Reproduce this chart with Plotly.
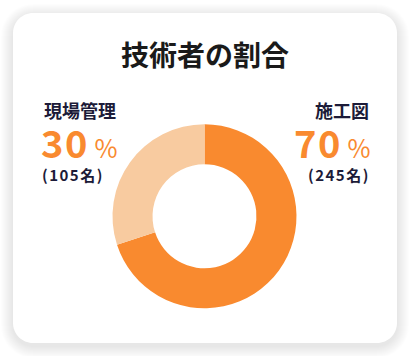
import plotly.graph_objects as go

W, H = 410, 356

title = "技術者の割合"
labels = ["施工図", "現場管理"]
values = [70, 30]
counts = [245, 105]
colors = ["#F98A2F", "#F8CBA0"]

ORANGE = "#F98A2F"
NAVY = "#1C1B38"
FONT = "Noto Sans CJK JP"


def px(x):
    return x / W


def py(y):
    return 1 - y / H


def rrect(x0, y0, x1, y1, r):
    k = 0.4477
    pts = [
        f"M {px(x0 + r)},{py(y0)}",
        f"L {px(x1 - r)},{py(y0)}",
        f"C {px(x1 - r * k)},{py(y0)} {px(x1)},{py(y0 + r * k)} {px(x1)},{py(y0 + r)}",
        f"L {px(x1)},{py(y1 - r)}",
        f"C {px(x1)},{py(y1 - r * k)} {px(x1 - r * k)},{py(y1)} {px(x1 - r)},{py(y1)}",
        f"L {px(x0 + r)},{py(y1)}",
        f"C {px(x0 + r * k)},{py(y1)} {px(x0)},{py(y1 - r * k)} {px(x0)},{py(y1 - r)}",
        f"L {px(x0)},{py(y0 + r)}",
        f"C {px(x0)},{py(y0 + r * k)} {px(x0 + r * k)},{py(y0)} {px(x0 + r)},{py(y0)}",
        "Z",
    ]
    return " ".join(pts)


shapes = []
# soft shadow
for i in range(12, 0, -1):
    shapes.append(dict(type="path", xref="paper", yref="paper",
                       path=rrect(13 - i, 13 - i + 3, 397 + i, 343 + i + 3, 20 + i),
                       fillcolor="rgba(0,0,0,0.006)", line=dict(width=0), layer="below"))
shapes.append(dict(type="path", xref="paper", yref="paper",
                   path=rrect(13, 13, 397, 343, 20),
                   fillcolor="#FFFFFF", line=dict(width=0), layer="below"))

cx, cy, R = 204.5, 216.3, 92
fig = go.Figure(go.Pie(
    labels=labels, values=values, sort=False, direction="clockwise", rotation=0,
    hole=0.565, marker=dict(colors=colors, line=dict(width=0)),
    textinfo="none", hoverinfo="skip", showlegend=False,
    domain=dict(x=[px(cx - R), px(cx + R)], y=[py(cy + R), py(cy - R)]),
))

LS = "letter-spacing:1.5px"


def num_text(v):
    return (f"<span style='{LS}'><b>{v}</b></span>"
            f"<span style='font-size:25px'> %</span>")


annotations = [
    dict(text=f"<b>{title}</b>", x=px(205), y=py(54), xanchor="center", yanchor="middle",
         font=dict(family=FONT, size=28, color="#1A1A1A")),
    # left label
    dict(text=f"<b>{labels[1]}</b>", x=px(42), y=py(110), xanchor="left", yanchor="middle",
         font=dict(family=FONT, size=18, color=NAVY)),
    dict(text=num_text(values[1]), x=px(39), y=py(141),
         xanchor="left", yanchor="middle", font=dict(family=FONT, size=38, color=ORANGE)),
    dict(text=f"<span style='{LS}'><b>({counts[1]}名)</b></span>", x=px(40), y=py(174),
         xanchor="left", yanchor="middle", font=dict(family=FONT, size=15, color=NAVY)),
    # right label
    dict(text=f"<b>{labels[0]}</b>", x=px(371), y=py(110), xanchor="right", yanchor="middle",
         font=dict(family=FONT, size=18, color=NAVY)),
    dict(text=num_text(values[0]), x=px(372), y=py(141),
         xanchor="right", yanchor="middle", font=dict(family=FONT, size=38, color=ORANGE)),
    dict(text=f"<span style='{LS}'><b>({counts[0]}名)</b></span>", x=px(372), y=py(174),
         xanchor="right", yanchor="middle", font=dict(family=FONT, size=15, color=NAVY)),
]
for a in annotations:
    a.update(xref="paper", yref="paper", showarrow=False)

fig.update_layout(
    width=W, height=H, margin=dict(l=0, r=0, t=0, b=0),
    paper_bgcolor="#FFFFFF", plot_bgcolor="#FFFFFF",
    shapes=shapes, annotations=annotations,
)
fig.write_html("out.html", config=dict(displayModeBar=False))
